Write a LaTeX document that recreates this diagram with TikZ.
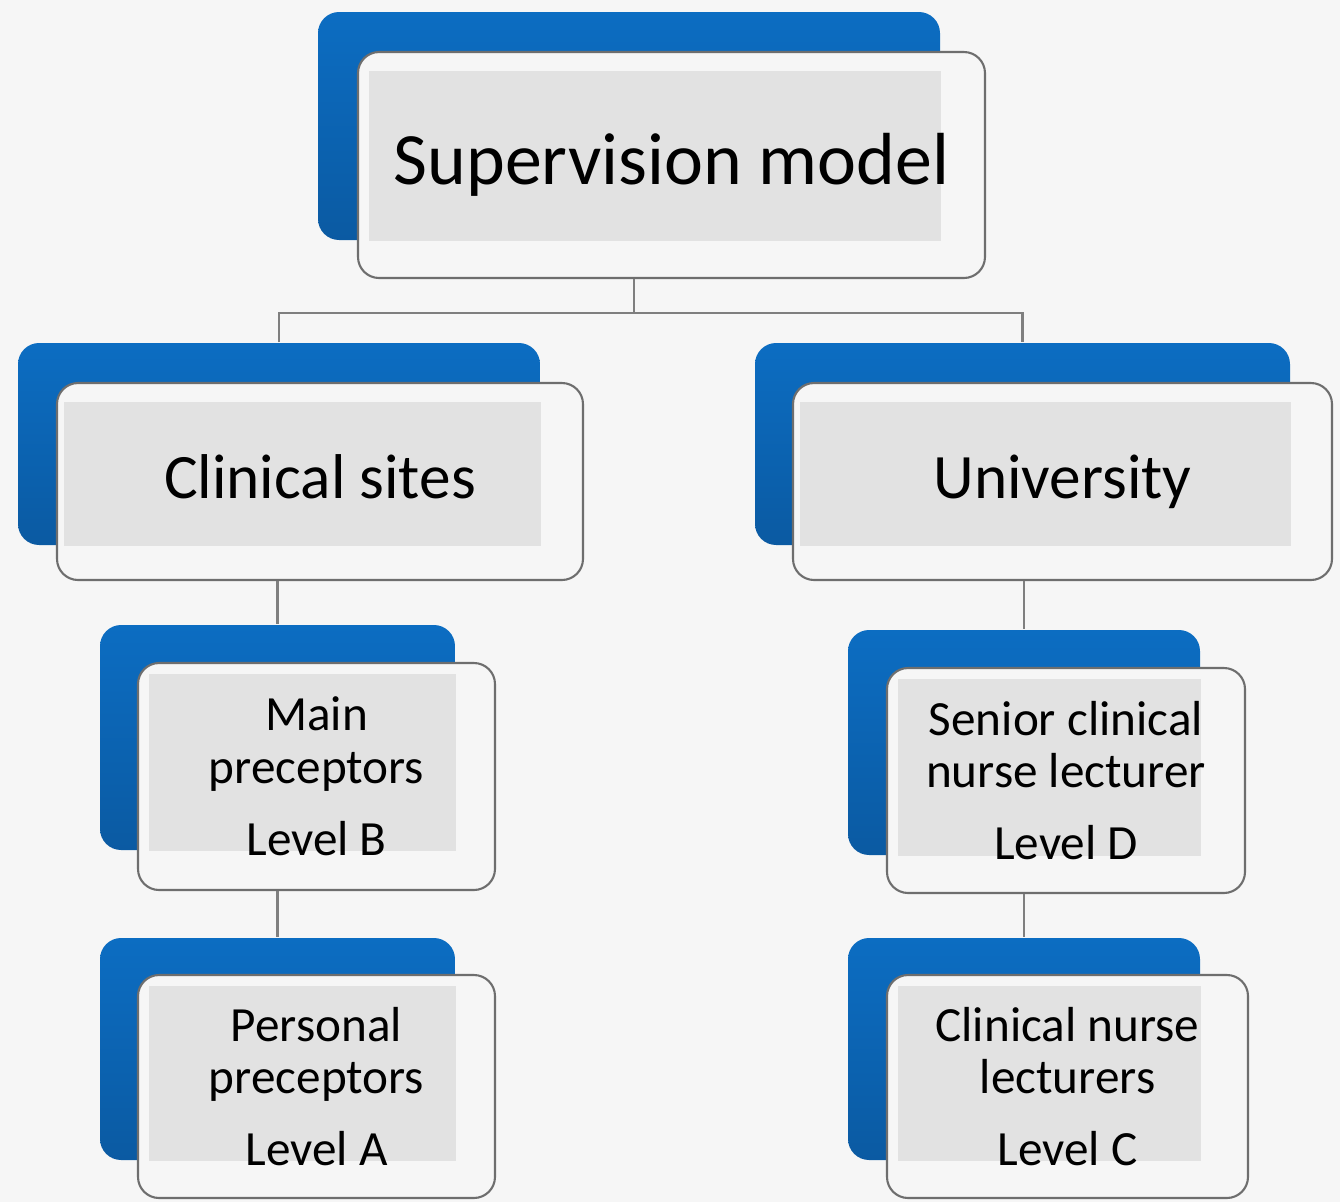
\documentclass[tikz,border=0pt]{standalone}
\usepackage{fontspec}
\setmainfont{Carlito}
\usepackage{tikz}
\definecolor{bgcol}{HTML}{F6F6F6}
\definecolor{blueup}{HTML}{0C6DC2}
\definecolor{bluedown}{HTML}{0B5AA2}
\definecolor{rimcol}{HTML}{6E6E6E}
\definecolor{fillgray}{HTML}{E2E2E2}
\definecolor{linkcol}{HTML}{7F7F7F}
\tikzstyle{backbox}=[rectangle,rounded corners=6pt,top color=blueup,bottom color=bluedown,inner sep=0pt]
\tikzstyle{frontbox}=[rectangle,rounded corners=6pt,fill=bgcol,draw=rimcol,line width=0.6pt,inner sep=0pt]
\tikzstyle{link}=[draw=linkcol,line width=0.7pt]
\tikzstyle{lvlone}=[font=\fontsize{21}{25}\selectfont]
\tikzstyle{lvltwo}=[font=\fontsize{18}{22}\selectfont]
\tikzstyle{lvlthree}=[font=\fontsize{14}{15}\selectfont,align=center]

\begin{document}
\begin{tikzpicture}[x=0.1mm,y=-0.1mm]
      \fill[bgcol] (0,0) rectangle (1340,1202);
      \useasboundingbox (0,0) rectangle (1340,1202);
      \coordinate (hub) at (634,313);
      % top
      \node[backbox, minimum width=62.2mm, minimum height=22.8mm] (bsup) at (629,126) {};
      \node[frontbox, minimum width=62.7mm, minimum height=22.6mm] (fsup) at (671.5,165) {};
      \fill[fillgray] ([shift={(12,20)}]fsup.north west) rectangle (bsup.south east);
      \node[lvlone] (tsup) at (fsup) {Supervision model};
      % second row
      \node[backbox, minimum width=52.2mm, minimum height=20.2mm] (bcli) at (279,444) {};
      \node[frontbox, minimum width=52.6mm, minimum height=19.7mm] (fcli) at (320,481.5) {};
      \fill[fillgray] ([shift={(8,20)}]fcli.north west) rectangle (bcli.south east);
      \node[lvltwo] (tcli) at ([yshift=0.5mm]fcli) {Clinical sites};
      \node[backbox, minimum width=53.5mm, minimum height=20.2mm] (buni) at (1022.5,444) {};
      \node[frontbox, minimum width=53.9mm, minimum height=19.7mm] (funi) at (1062.5,481.5) {};
      \fill[fillgray] ([shift={(8,20)}]funi.north west) rectangle (buni.south east);
      \node[lvltwo] (tuni) at (funi) {University};
      % left column
      \node[backbox, minimum width=35.5mm, minimum height=22.5mm] (bmain) at (277.5,737.5) {};
      \node[frontbox, minimum width=35.7mm, minimum height=22.7mm] (fmain) at (316.5,776.5) {};
      \fill[fillgray] ([shift={(12,12)}]fmain.north west) rectangle (bmain.south east);
      \node[lvlthree] (tmain) at (fmain) {Main\\preceptors\\[5.5pt]Level B};
      \node[backbox, minimum width=35.5mm, minimum height=22.2mm] (bpers) at (277.5,1049) {};
      \node[frontbox, minimum width=35.7mm, minimum height=22.3mm] (fpers) at (316.5,1086.5) {};
      \fill[fillgray] ([shift={(12,12)}]fpers.north west) rectangle (bpers.south east);
      \node[lvlthree] (tpers) at (fpers) {Personal\\preceptors\\[5.5pt]Level A};
      % right column
      \node[backbox, minimum width=35.2mm, minimum height=22.5mm] (bsen) at (1024,742.5) {};
      \node[frontbox, minimum width=35.8mm, minimum height=22.5mm] (fsen) at (1066,780.5) {};
      \fill[fillgray] ([shift={(12,12)}]fsen.north west) rectangle (bsen.south east);
      \node[lvlthree] (tsen) at (fsen) {Senior clinical\\nurse lecturer\\[5.5pt]Level D};
      \node[backbox, minimum width=35.2mm, minimum height=22.2mm] (bcn) at (1024,1049) {};
      \node[frontbox, minimum width=36.1mm, minimum height=22.3mm] (fcn) at (1067.5,1086.5) {};
      \fill[fillgray] ([shift={(12,12)}]fcn.north west) rectangle (bcn.south east);
      \node[lvlthree] (tcn) at (fcn) {Clinical nurse\\lecturers\\[5.5pt]Level C};
      % connectors
      \draw[link] (fsup.south -| hub) -- (hub);
      \draw[link] (bcli.north) |- (hub) -| (buni.north);
      \draw[link] (fcli.south -| bmain.north) -- (bmain.north);
      \draw[link] (fmain.south -| bpers.north) -- (bpers.north);
      \draw[link] (funi.south -| bsen.north) -- (bsen.north);
      \draw[link] (fsen.south -| bcn.north) -- (bcn.north);
\end{tikzpicture}
\end{document}
